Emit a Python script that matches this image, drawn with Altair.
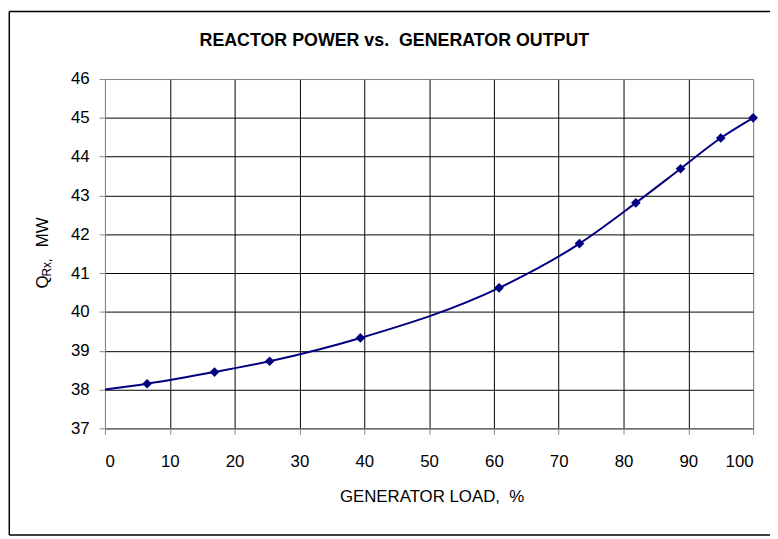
import altair as alt
import pandas as pd

# Data
gen_load = [6.5, 16.9, 25.4, 39.4, 60.8, 73.2, 81.9, 88.8, 95.0, 100.0]
q_rx = [38.15, 38.45, 38.73, 39.33, 40.62, 41.76, 42.81, 43.69, 44.48, 45.0]
line_start_load = [0.0]
line_start_q = [38.0]

x_ticks = [0, 10, 20, 30, 40, 50, 60, 70, 80, 90, 100]
y_ticks = [37, 38, 39, 40, 41, 42, 43, 44, 45, 46]

title_text = "REACTOR POWER vs.\u00a0 GENERATOR OUTPUT"
x_title = "GENERATOR LOAD,\u00a0 %"
y_title_parts = ["Q", "Rx,", "MW"]

FONT = "Liberation Sans"
NAVY = "#000080"

pts = pd.DataFrame({"load": gen_load, "q": q_rx})
ln = pd.DataFrame({"load": line_start_load + gen_load, "q": line_start_q + q_rx})

x_axis = alt.Axis(
    values=x_ticks,
    tickCount=20,
    format="d",
    title=x_title,
    titleX=330,
    tickSize=6,
    labelPadding=20,
    titlePadding=19,
    labelFontSize=17,
    titleFontSize=17,
    titleFontWeight="normal",
    labelOverlap=False,
    gridColor={"condition": {"test": "datum.value === 100", "value": "#808080"}, "value": "black"},
)
y_axis = alt.Axis(
    values=y_ticks,
    tickCount=20,
    format="d",
    title=None,
    tickSize=6,
    labelPadding=10,
    labelFontSize=17,
    labelOverlap=False,
    gridColor={"condition": {"test": "datum.value === 46", "value": "#808080"}, "value": "black"},
)
x_scale = alt.Scale(domain=[0, 100], nice=False)
y_scale = alt.Scale(domain=[37, 46], nice=False, zero=False)

line = alt.Chart(ln).mark_line(color=NAVY, strokeWidth=2, interpolate="monotone").encode(
    x=alt.X("load:Q", scale=x_scale, axis=x_axis),
    y=alt.Y("q:Q", scale=y_scale, axis=y_axis),
)
points = alt.Chart(pts).mark_point(shape="diamond", filled=True, color=NAVY, size=95, opacity=1).encode(
    x=alt.X("load:Q", scale=x_scale, axis=x_axis),
    y=alt.Y("q:Q", scale=y_scale, axis=y_axis),
)

one = pd.DataFrame({"k": [0]})
border_left = alt.Chart(one).mark_rule(color="black", strokeWidth=1.5).encode(
    x=alt.value(-96.7), y=alt.value(-68.25), y2=alt.value(460.7)
)
border_top = alt.Chart(one).mark_rule(color="black", strokeWidth=1.5).encode(
    x=alt.value(-96.7), x2=alt.value(700), y=alt.value(-68.25)
)
border_bottom = alt.Chart(one).mark_rule(color="black", strokeWidth=1.5).encode(
    x=alt.value(-96.7), x2=alt.value(700), y=alt.value(460.7)
)

title_mark = alt.Chart(one).mark_text(
    text=title_text, align="center", baseline="alphabetic", font=FONT, fontSize=18, fontWeight="bold", color="black"
).encode(x=alt.value(292.4), y=alt.value(-33))

yt_q = alt.Chart(one).mark_text(
    text=y_title_parts[0], angle=270, align="center", baseline="alphabetic", font=FONT, fontSize=17, color="black"
).encode(x=alt.value(-57.7), y=alt.value(205))
yt_rx = alt.Chart(one).mark_text(
    text=y_title_parts[1], angle=270, align="center", baseline="alphabetic", font=FONT, fontSize=12, color="black"
).encode(x=alt.value(-54.4), y=alt.value(190.5))
yt_mw = alt.Chart(one).mark_text(
    text=y_title_parts[2], angle=270, align="center", baseline="alphabetic", font=FONT, fontSize=17, color="black"
).encode(x=alt.value(-57.7), y=alt.value(155))

chart = (
    alt.layer(line, points, border_left, border_top, border_bottom, title_mark, yt_q, yt_rx, yt_mw)
    .properties(
        width=655,
        height=353,
        padding={"left": 98, "top": 69, "right": 17, "bottom": 109},
        autosize=alt.AutoSizeParams(type="none"),
    )
    .configure_view(stroke="#808080", strokeWidth=1)
    .configure_axis(
        domainColor="black",
        tickColor="black",
        gridColor="black",
        gridWidth=1,
        gridOpacity=1,
        labelColor="black",
        titleColor="black",
        labelFont=FONT,
        titleFont=FONT,
        domainWidth=1,
    )
    .configure(background="white")
)

chart.save("out.html", embed_options={"renderer": "svg", "actions": False})
